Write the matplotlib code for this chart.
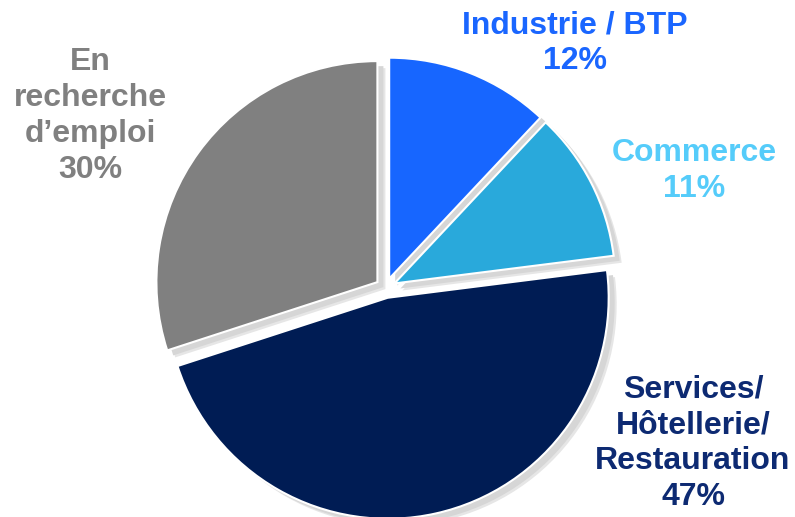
import matplotlib.pyplot as plt

plt.rcParams["font.family"] = ["Liberation Sans", "DejaVu Sans"]

labels = ["Industrie / BTP", "Commerce", "Services/\nHôtellerie/\nRestauration", "En\nrecherche\nd\u2019emploi"]
shares = [12, 11, 47, 30]
colors = ["#1766ff", "#29a9db", "#001c54", "#808080"]
text_colors = ["#1a66ff", "#55ccfa", "#0d2a72", "#808080"]
# label block centres, pixel coords (x, y from top)
label_pos = [(575, 43), (694, 171), (693, 443), (90, 116)]

W, H = 795, 517
cx, cy = 385.5, 288
R = 221
# pie() takes explode in data units, so this is pixels here
explode = [10] * len(shares)

fig = plt.figure(figsize=(W / 100, H / 100), dpi=100)
ax = fig.add_axes([0, 0, 1, 1])
ax.set_axis_off()

# soft shadow under each slice
for off, col in [((8, -7), "#e6e6e6"), ((6, -5), "#d6d6d6")]:
    ax.pie(shares, explode=explode, startangle=90, counterclock=False,
           radius=R, center=(cx + off[0], H - cy + off[1]), colors=[col] * len(shares),
           wedgeprops={"linewidth": 0}, frame=True)

ax.pie(shares, explode=explode, startangle=90, counterclock=False,
       radius=R, center=(cx, H - cy), colors=colors,
       wedgeprops={"linewidth": 1.5, "edgecolor": "white"}, frame=True)

for lab, val, col, (x, y) in zip(labels, shares, text_colors, label_pos):
    ax.text(x, H - y, f"{lab}\n{val}%", ha="center", va="center", color=col,
            fontsize=23, fontweight="bold", linespacing=1.26)

ax.set_xlim(0, W)
ax.set_ylim(0, H)
ax.set_aspect("equal")
ax.set_axis_off()
fig.savefig("out.png", dpi=100, facecolor="white")
